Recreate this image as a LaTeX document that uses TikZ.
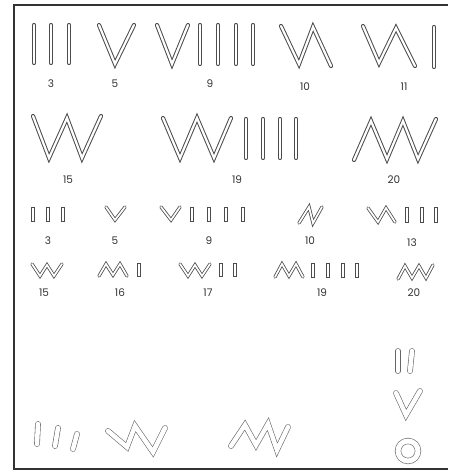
\documentclass[tikz,border=0pt]{standalone}
\usepackage{fontspec}
\setmainfont{Poppins}
\begin{document}
\begin{tikzpicture}[x=1pt,y=-1pt,
  big/.style={draw=black!70, double=white, double distance=2.2pt, line width=1pt, line cap=round, line join=miter},
  sm/.style={draw=black!70, double=white, double distance=1.7pt, line width=0.8pt, line cap=round, line join=miter},
  sbar/.style={draw=black!70, double=white, double distance=2.4pt, line width=0.8pt, line cap=rect},
  hand/.style={draw=black!60, double=white, double distance=4.5pt, line width=0.6pt, line cap=round, line join=miter},
  lab/.style={text=black!80, font=\fontsize{10.5}{10.5}\selectfont, inner sep=0pt},
  frame/.style={draw=black!80, line width=1.1pt}]
\useasboundingbox (0,0) rectangle (448,472);
\draw[frame] (448,5) -- (14,5) -- (14,469) -- (448,469);

% Row 1
\foreach \x in {34,51,69} \draw[big] (\x,25) -- (\x,63);
\draw[big] (99,25) -- (115,64) -- (134,25);
\draw[big] (157,25) -- (172,64) -- (188,25);
\foreach \x in {200,218,236,253} \draw[big] (\x,25) -- (\x,64);
\draw[big] (281,26) -- (299,64) -- (313,27) -- (331,66);
\draw[big] (363,26) -- (379,63) -- (396,28) -- (415,66);
\draw[big] (434,27) -- (434,67);
\node[lab] (l1a) at (51,84) {3};
\node[lab] (l1b) at (115,84) {5};
\node[lab] (l1c) at (210,84) {9};
\node[lab] (l1d) at (305,87) {10};
\node[lab] (l1e) at (404,87) {11};

% Row 2
\draw[big] (33,116) -- (49,158) -- (67,118) -- (82,158) -- (101,116);
\draw[big] (163,118) -- (180,158) -- (197,118) -- (214,158) -- (231,118);
\foreach \x in {246,263,280,296} \draw[big] (\x,119) -- (\x,158);
\draw[big] (354,160) -- (371,121) -- (387,159) -- (403,121) -- (418,159) -- (436,119);
\node[lab] (l2a) at (68,180) {15};
\node[lab] (l2b) at (237,180) {19};
\node[lab] (l2c) at (394,180) {20};

% Row 3
\foreach \x in {33,48,63} \draw[sbar] (\x,209) -- (\x,220);
\draw[sm] (106,207) -- (115,220) -- (125,207);
\draw[sm] (161,207) -- (171,220) -- (180,207);
\foreach \x in {192,209,226,243} \draw[sbar] (\x,209) -- (\x,220);
\draw[sm] (299,223) -- (309,207) -- (313,223) -- (322,207);
\draw[sm] (368,208) -- (378,222) -- (386,208) -- (395,222);
\foreach \x in {407,422,436} \draw[sbar] (\x,209) -- (\x,221);
\node[lab] (l3a) at (48,241) {3};
\node[lab] (l3b) at (115,241) {5};
\node[lab] (l3c) at (209,241) {9};
\node[lab] (l3d) at (310,241) {10};
\node[lab] (l3e) at (412,243) {13};

% Row 4
\draw[sm] (32,264) -- (40,276) -- (47,265) -- (54,276) -- (62,264);
\draw[sm] (99,276) -- (106,264) -- (113,275) -- (120,264) -- (127,276);
\draw[sbar] (139,265) -- (139,275);
\draw[sm] (180,264) -- (188,276) -- (195,265) -- (202,276) -- (210,264);
\foreach \x in {221,235} \draw[sbar] (\x,265) -- (\x,275);
\draw[sm] (275,277) -- (282,264) -- (289,276) -- (296,264) -- (303,277);
\foreach \x in {313,328,343,357} \draw[sbar] (\x,265) -- (\x,276);
\draw[sm] (398,279) -- (405,266) -- (412,278) -- (419,266) -- (426,278) -- (433,265);
\node[lab] (l4a) at (44,293) {15};
\node[lab] (l4b) at (120,293) {16};
\node[lab] (l4c) at (208,293) {17};
\node[lab] (l4d) at (322,293) {19};
\node[lab] (l4e) at (414,293) {20};

% Bottom, hand drawn
\draw[hand] (38,424) -- (37,444);
\draw[hand] (58,428) -- (55,446);
\draw[hand] (77,434) -- (73,449);
\draw[hand] (108,431) -- (127,447) -- (135,426) -- (153,452) -- (165,428);
\draw[hand] (231,446) -- (245,425) -- (256,445) -- (268,424) -- (277,450) -- (288,427);
\draw[hand] (398,351) -- (398,371);
\draw[hand] (412,351) -- (410,371);
\draw[hand] (396,393) -- (406,415) -- (420,391);
\draw[hand, double distance=5pt] (408,451) circle[radius=10];
\end{tikzpicture}
\end{document}
